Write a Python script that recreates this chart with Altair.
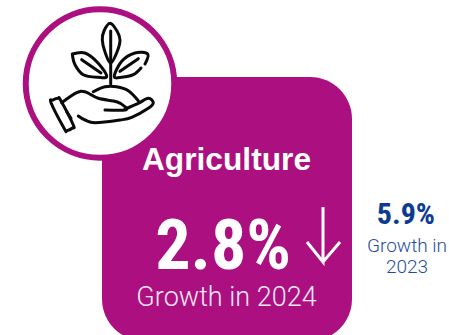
import altair as alt
import pandas as pd

W, H = 449, 335
MAGENTA = "#AB0F80"
NAVY = "#0B3C91"
BLUE = "#1F4E9C"
INK = "#0A0A0A"
CONDENSED = "Roboto Condensed, Open Sans Condensed, Roboto"

x_scale = alt.Scale(domain=[0, W], nice=False, zero=False)
y_scale = alt.Scale(domain=[H, 0], nice=False, zero=False)

# Panel and badge geometry in page units
panel_x = [102]
panel_x2 = [352]
panel_y = [77]
panel_y2 = [341]
badge_x = [100]
badge_y = [83.5]

# Plant and hand outline strokes: (name, curve, xs, ys)
icon_strokes = [
    ("leaf_mid", "cardinal-closed", [110, 117, 120, 117, 110.7, 105, 102.3, 104],
     [23.3, 31, 40, 52, 63, 52, 40, 31]),
    ("rib_mid", "linear", [110.7, 110.7], [31, 84]),
    ("leaf_left", "cardinal", [72.3, 85, 98, 106.7, 98, 83.3, 75, 72.3],
     [54, 53, 63, 76.3, 77.3, 74.7, 64.7, 54]),
    ("rib_left", "linear", [81.7, 101], [59.7, 73]),
    ("leaf_right", "cardinal", [141, 133.3, 121.7, 114.3, 121.7, 135, 147.7, 145],
     [68, 74.7, 77.3, 76.3, 61.3, 53, 54, 64]),
    ("rib_right", "linear", [138.3, 120], [58.7, 71.3]),
    ("cuff", "cardinal-closed", [51, 53, 58.3, 60.5, 73.3, 72.5, 66.7, 64.5],
     [102.7, 100, 98.3, 100, 125, 128, 130.7, 129]),
    ("back", "cardinal", [61.7, 76.7, 85, 98.3, 116.7, 125, 125, 105],
     [102.7, 92.7, 91.7, 98.3, 101.7, 106.7, 110, 110]),
    ("soil", "cardinal", [93.3, 105, 116.7, 128.3, 138.3], [91.7, 86.7, 86.7, 90.7, 100.7]),
    ("palm", "cardinal", [125, 138.3, 148.3, 153.3, 148.3, 131.7, 120, 95, 85, 78.3],
     [109, 103.3, 98.3, 102.7, 108.3, 117.3, 120, 122.7, 120, 116]),
    ("wrist", "linear", [66.7, 71], [111.7, 118.3]),
]

# Downward arrow beside the headline figure
arrow_x = [323, 323, 307, 323, 340]
arrow_y = [207, 262, 242, 262, 242]

# Text blocks
labels = [
    ("Agriculture", 226.5, 170, 31.7, "Liberation Sans", "bold", "white"),
    ("Growth in 2024", 226.5, 306, 27, "Roboto", 300, "#F8E8F3"),
    ("Growth in", 407, 252, 19, "Roboto", 300, BLUE),
    ("2023", 407, 273, 19, "Roboto", 300, BLUE),
]
figures = [
    ("2.8%", 291, 269, 70, CONDENSED, "bold", "white"),
    ("5.9%", 435, 224, 30, CONDENSED, "bold", NAVY),
]


def at(x, y, **extra):
    return dict(
        x=alt.X(x, type="quantitative", scale=x_scale, axis=None),
        y=alt.Y(y, type="quantitative", scale=y_scale, axis=None),
        **extra,
    )


panel = (
    alt.Chart(pd.DataFrame({"x": panel_x, "x2": panel_x2, "y": panel_y, "y2": panel_y2}))
    .mark_rect(color=MAGENTA, cornerRadius=42, clip=True)
    .encode(**at("x", "y"), x2="x2:Q", y2="y2:Q")
)

badge = (
    alt.Chart(pd.DataFrame({"x": badge_x, "y": badge_y}))
    .mark_point(shape="circle", filled=False, fill="white", stroke=MAGENTA,
                strokeWidth=6, size=22052, opacity=1, fillOpacity=1)
    .encode(**at("x", "y"))
)

icon_layers = []
for name, curve, xs, ys in icon_strokes:
    frame = pd.DataFrame({"x": xs, "y": ys, "i": range(len(xs))})
    icon_layers.append(
        alt.Chart(frame)
        .mark_line(color=INK, strokeWidth=3, interpolate=curve,
                   strokeCap="round", strokeJoin="round")
        .encode(**at("x", "y"), order="i:Q")
    )

arrow = (
    alt.Chart(pd.DataFrame({"x": arrow_x, "y": arrow_y, "i": range(len(arrow_x))}))
    .mark_line(color="white", strokeWidth=3, strokeJoin="miter")
    .encode(**at("x", "y"), order="i:Q")
)


def text_layer(row, align):
    text, x, y, size, font, weight, color = row
    return (
        alt.Chart(pd.DataFrame({"x": [x], "y": [y], "t": [text]}))
        .mark_text(font=font, fontSize=size, fontWeight=weight, color=color,
                   align=align, baseline="alphabetic")
        .encode(**at("x", "y"), text="t:N")
    )


chart = (
    alt.layer(
        panel,
        badge,
        *icon_layers,
        arrow,
        *[text_layer(r, "center") for r in labels],
        *[text_layer(r, "right") for r in figures],
    )
    .properties(width=W, height=H, padding=0, autosize="none")
    .configure_view(stroke=None)
)

chart.save("out.html", embed_options={"renderer": "svg", "actions": False})
